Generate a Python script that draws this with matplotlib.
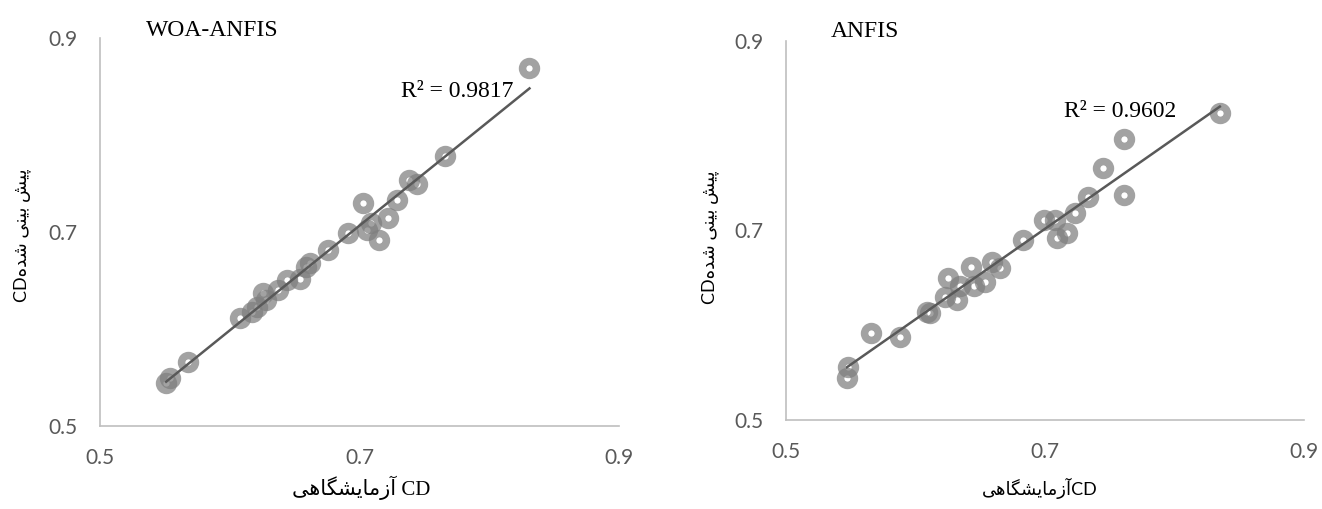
import matplotlib
matplotlib.use("Agg")
import matplotlib.pyplot as plt
import numpy as np

woa_lab = [0.831, 0.766, 0.738, 0.744, 0.729, 0.703, 0.722, 0.706, 0.709, 0.715,
           0.691, 0.676, 0.662, 0.659, 0.654, 0.644, 0.637, 0.626, 0.628, 0.621,
           0.617, 0.608, 0.568, 0.554, 0.551]
woa_pred = [0.869, 0.778, 0.754, 0.750, 0.733, 0.730, 0.714, 0.702, 0.709, 0.692,
            0.699, 0.681, 0.668, 0.664, 0.652, 0.651, 0.640, 0.637, 0.630, 0.623,
            0.618, 0.611, 0.566, 0.549, 0.544]
anfis_lab = [0.835, 0.761, 0.745, 0.761, 0.733, 0.723, 0.699, 0.708, 0.709, 0.717,
             0.683, 0.659, 0.665, 0.643, 0.654, 0.645, 0.625, 0.634, 0.623, 0.632,
             0.611, 0.609, 0.566, 0.588, 0.548, 0.547]
anfis_pred = [0.824, 0.797, 0.766, 0.737, 0.735, 0.718, 0.711, 0.711, 0.692, 0.697,
              0.690, 0.667, 0.660, 0.662, 0.646, 0.641, 0.650, 0.641, 0.630, 0.627,
              0.613, 0.614, 0.592, 0.588, 0.556, 0.544]
titles = ["WOA-ANFIS", "ANFIS"]
r2_labels = ["R² = 0.9817", "R² = 0.9602"]
ticks = [0.5, 0.7, 0.9]
tick_labels = ["0.5", "0.7", "0.9"]
ylabel_fa = "پیش بینی شده"
xlabel_fa = "آزمایشگاهی"

# simple persian shaping (matplotlib has no arabic shaping / bidi)
FORMS = {
    "آ": ("\uFE81", "\uFE82", None, None),
    "ا": ("\uFE8D", "\uFE8E", None, None),
    "ز": ("\uFEAF", "\uFEB0", None, None),
    "د": ("\uFEA9", "\uFEAA", None, None),
    "م": ("\uFEE1", "\uFEE2", "\uFEE3", "\uFEE4"),
    "ی": ("\uFBFC", "\uFBFD", "\uFBFE", "\uFBFF"),
    "ش": ("\uFEB5", "\uFEB6", "\uFEB7", "\uFEB8"),
    "گ": ("\uFB92", "\uFB93", "\uFB94", "\uFB95"),
    "ه": ("\uFEE9", "\uFEEA", "\uFEEB", "\uFEEC"),
    "پ": ("\uFB56", "\uFB57", "\uFB58", "\uFB59"),
    "ب": ("\uFE8F", "\uFE90", "\uFE91", "\uFE92"),
    "ن": ("\uFEE5", "\uFEE6", "\uFEE7", "\uFEE8"),
}


def dual(c):
    return c in FORMS and FORMS[c][2] is not None


def shape(text):
    out = []
    for i, c in enumerate(text):
        if c not in FORMS:
            out.append(c)
            continue
        prev_j = i > 0 and dual(text[i - 1])
        next_j = dual(c) and i + 1 < len(text) and text[i + 1] in FORMS
        iso, fin, ini, med = FORMS[c]
        if prev_j and next_j:
            out.append(med)
        elif prev_j:
            out.append(fin)
        elif next_j:
            out.append(ini)
        else:
            out.append(iso)
    return "".join(out)[::-1]


sans = ["Lato", "DejaVu Sans"]
serif = ["Liberation Serif", "DejaVu Sans"]
grey_txt = "#595959"

fig = plt.figure(figsize=(13.22, 5.09), dpi=100)
boxes = [[100 / 1322, 1 - 426 / 509, 519 / 1322, 388 / 509],
         [786 / 1322, 1 - 420 / 509, 518 / 1322, 379 / 509]]
data = [(woa_lab, woa_pred), (anfis_lab, anfis_pred)]
r2_pos = [(0.775, 0.845), (0.758, 0.826)]
title_pos = [(0.216, 1.02), (0.153, 1.024)]

for k in range(2):
    ax = fig.add_axes(boxes[k])
    x, y = np.array(data[k][0]), np.array(data[k][1])
    ax.plot(x, y, "o", ms=10, mew=5.4, mec="#7f7f7f", mfc="none", alpha=0.72,
            zorder=3)
    a, b = np.polyfit(x, y, 1)
    xs = np.array([x.min(), x.max()])
    ax.plot(xs, a * xs + b, color="#595959", lw=1.8, zorder=4)
    ax.set_xlim(0.5, 0.9)
    ax.set_ylim(0.5, 0.9)
    ax.set_xticks(ticks)
    ax.set_yticks(ticks)
    ax.set_xticklabels(tick_labels)
    ax.set_yticklabels(tick_labels)
    ax.tick_params(length=0, labelsize=15, labelcolor=grey_txt)
    ax.tick_params(axis="x", pad=16)
    ax.tick_params(axis="y", pad=16)
    for lab in ax.get_xticklabels() + ax.get_yticklabels():
        lab.set_family(sans)
    for s in ["top", "right"]:
        ax.spines[s].set_visible(False)
    for s in ["left", "bottom"]:
        ax.spines[s].set_color("#bfbfbf")
        ax.spines[s].set_linewidth(1.2)
    ax.text(r2_pos[k][0], r2_pos[k][1], r2_labels[k], family=serif, fontsize=17,
            ha="center", va="center")
    ax.text(title_pos[k][0], title_pos[k][1], titles[k], transform=ax.transAxes,
            family=serif, fontsize=17, ha="center", va="center")
    ax.patch.set_alpha(0)

# axis labels
yl = "CD" + shape(ylabel_fa)
fig.text(22 / 1322, 1 - 235 / 509, yl, rotation=90, family=sans, fontsize=13,
         ha="center", va="center")
fig.text(710 / 1322, 1 - 237 / 509, yl, rotation=90, family=sans, fontsize=13,
         ha="center", va="center")
fig.text(361 / 1322, 1 - 488 / 509, shape(xlabel_fa) + " CD", family=serif,
         fontsize=15, ha="center", va="center")
fig.text(1040 / 1322, 1 - 488 / 509, shape(xlabel_fa) + "CD", family=sans,
         fontsize=13, ha="center", va="center")

fig.savefig("out.png", dpi=100)
